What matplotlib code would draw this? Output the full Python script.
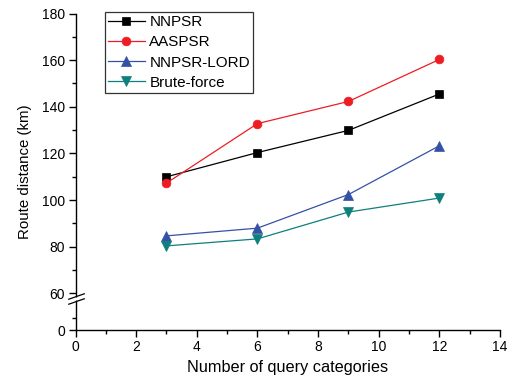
import numpy as np
import matplotlib
matplotlib.use("Agg")
import matplotlib.pyplot as plt
from matplotlib.ticker import FixedLocator, MultipleLocator, FuncFormatter, NullFormatter

plt.rcParams['font.family'] = ['Liberation Sans', 'DejaVu Sans']

# Route distance (km) against number of query categories
categories = [3, 6, 9, 12]
nnpsr = [110.0, 120.4, 129.9, 145.5]
aaspsr = [107.3, 132.8, 142.3, 160.3]
nnpsr_lord = [84.7, 88.0, 102.4, 123.3]
brute_force = [80.4, 83.4, 94.9, 100.9]

series = [
    ("NNPSR", nnpsr, "#000000", "s", 5.2),
    ("AASPSR", aaspsr, "#EE1D24", "o", 6.3),
    ("NNPSR-LORD", nnpsr_lord, "#3451A6", "^", 7.2),
    ("Brute-force", brute_force, "#0E7F7C", "v", 7.2),
]

# broken y scale: 0-60 compressed into a short lower band, 60-180 linear
LOW_SPAN = 36.7          # height of the 0-60 band (scale units)
HIGH_RATE = 46.9 / 20.0  # scale units per km above 60


def fwd(y):
    y = np.asarray(y, dtype=float)
    return np.where(y <= 60, y * LOW_SPAN / 60.0, LOW_SPAN + (y - 60) * HIGH_RATE)


def inv(v):
    v = np.asarray(v, dtype=float)
    return np.where(v <= LOW_SPAN, v * 60.0 / LOW_SPAN, 60 + (v - LOW_SPAN) / HIGH_RATE)


W, H = 522, 387
fig = plt.figure(figsize=(W / 100, H / 100), dpi=100)
ax = fig.add_axes([75.5 / W, (H - 330) / H, (500 - 75.5) / W, (330 - 13.5) / H])
ax.set_yscale('function', functions=(fwd, inv))

for name, vals, col, mk, ms in series:
    ax.plot(categories, vals, color=col, marker=mk, markersize=ms, lw=0.9,
            markeredgewidth=0.5, label=name, clip_on=False, zorder=3)

ax.set_xlim(0, 14)
ax.set_ylim(0, 180)
ax.xaxis.set_major_locator(MultipleLocator(2))
ax.xaxis.set_minor_locator(MultipleLocator(1))
ax.yaxis.set_major_locator(FixedLocator([0, 60, 80, 100, 120, 140, 160, 180]))
ax.yaxis.set_minor_locator(FixedLocator([20, 70, 90, 110, 130, 150, 170]))
ax.yaxis.set_major_formatter(FuncFormatter(lambda v, p: f"{v:.0f}"))
ax.yaxis.set_minor_formatter(NullFormatter())

for s in ("top", "right"):
    ax.spines[s].set_visible(False)
for s in ("left", "bottom"):
    ax.spines[s].set_linewidth(1.0)
ax.tick_params(which='major', direction='out', length=5, width=1.0,
               labelsize=10, pad=2.5, colors='black')
ax.tick_params(which='minor', direction='out', length=3, width=1.0)

ax.set_xlabel("Number of query categories", fontsize=11.7, labelpad=4)
ax.set_ylabel("Route distance (km)", fontsize=10.8, labelpad=7)

# break marks on the y axis
ytr = ax.get_yaxis_transform()
ax.plot([0, 0], [48.5, 54.5], transform=ytr, color='white', lw=2.5,
        clip_on=False, zorder=5, solid_capstyle='butt')
ax.plot([0, 0], [47.0, 56.0], transform=ytr, linestyle='none',
        marker=[(-1, -0.35), (1, 0.35)], markersize=12, color='black',
        markeredgecolor='black', markeredgewidth=0.9, clip_on=False, zorder=6)

leg = ax.legend(loc='upper left', bbox_to_anchor=(0.0695, 1.004), fontsize=11,
                frameon=True, fancybox=False, edgecolor='black', borderaxespad=0,
                borderpad=0.2, handlelength=2.4, handletextpad=0.3,
                labelspacing=0.4)
leg.get_frame().set_linewidth(0.9)

fig.savefig("out.png", dpi=100)
